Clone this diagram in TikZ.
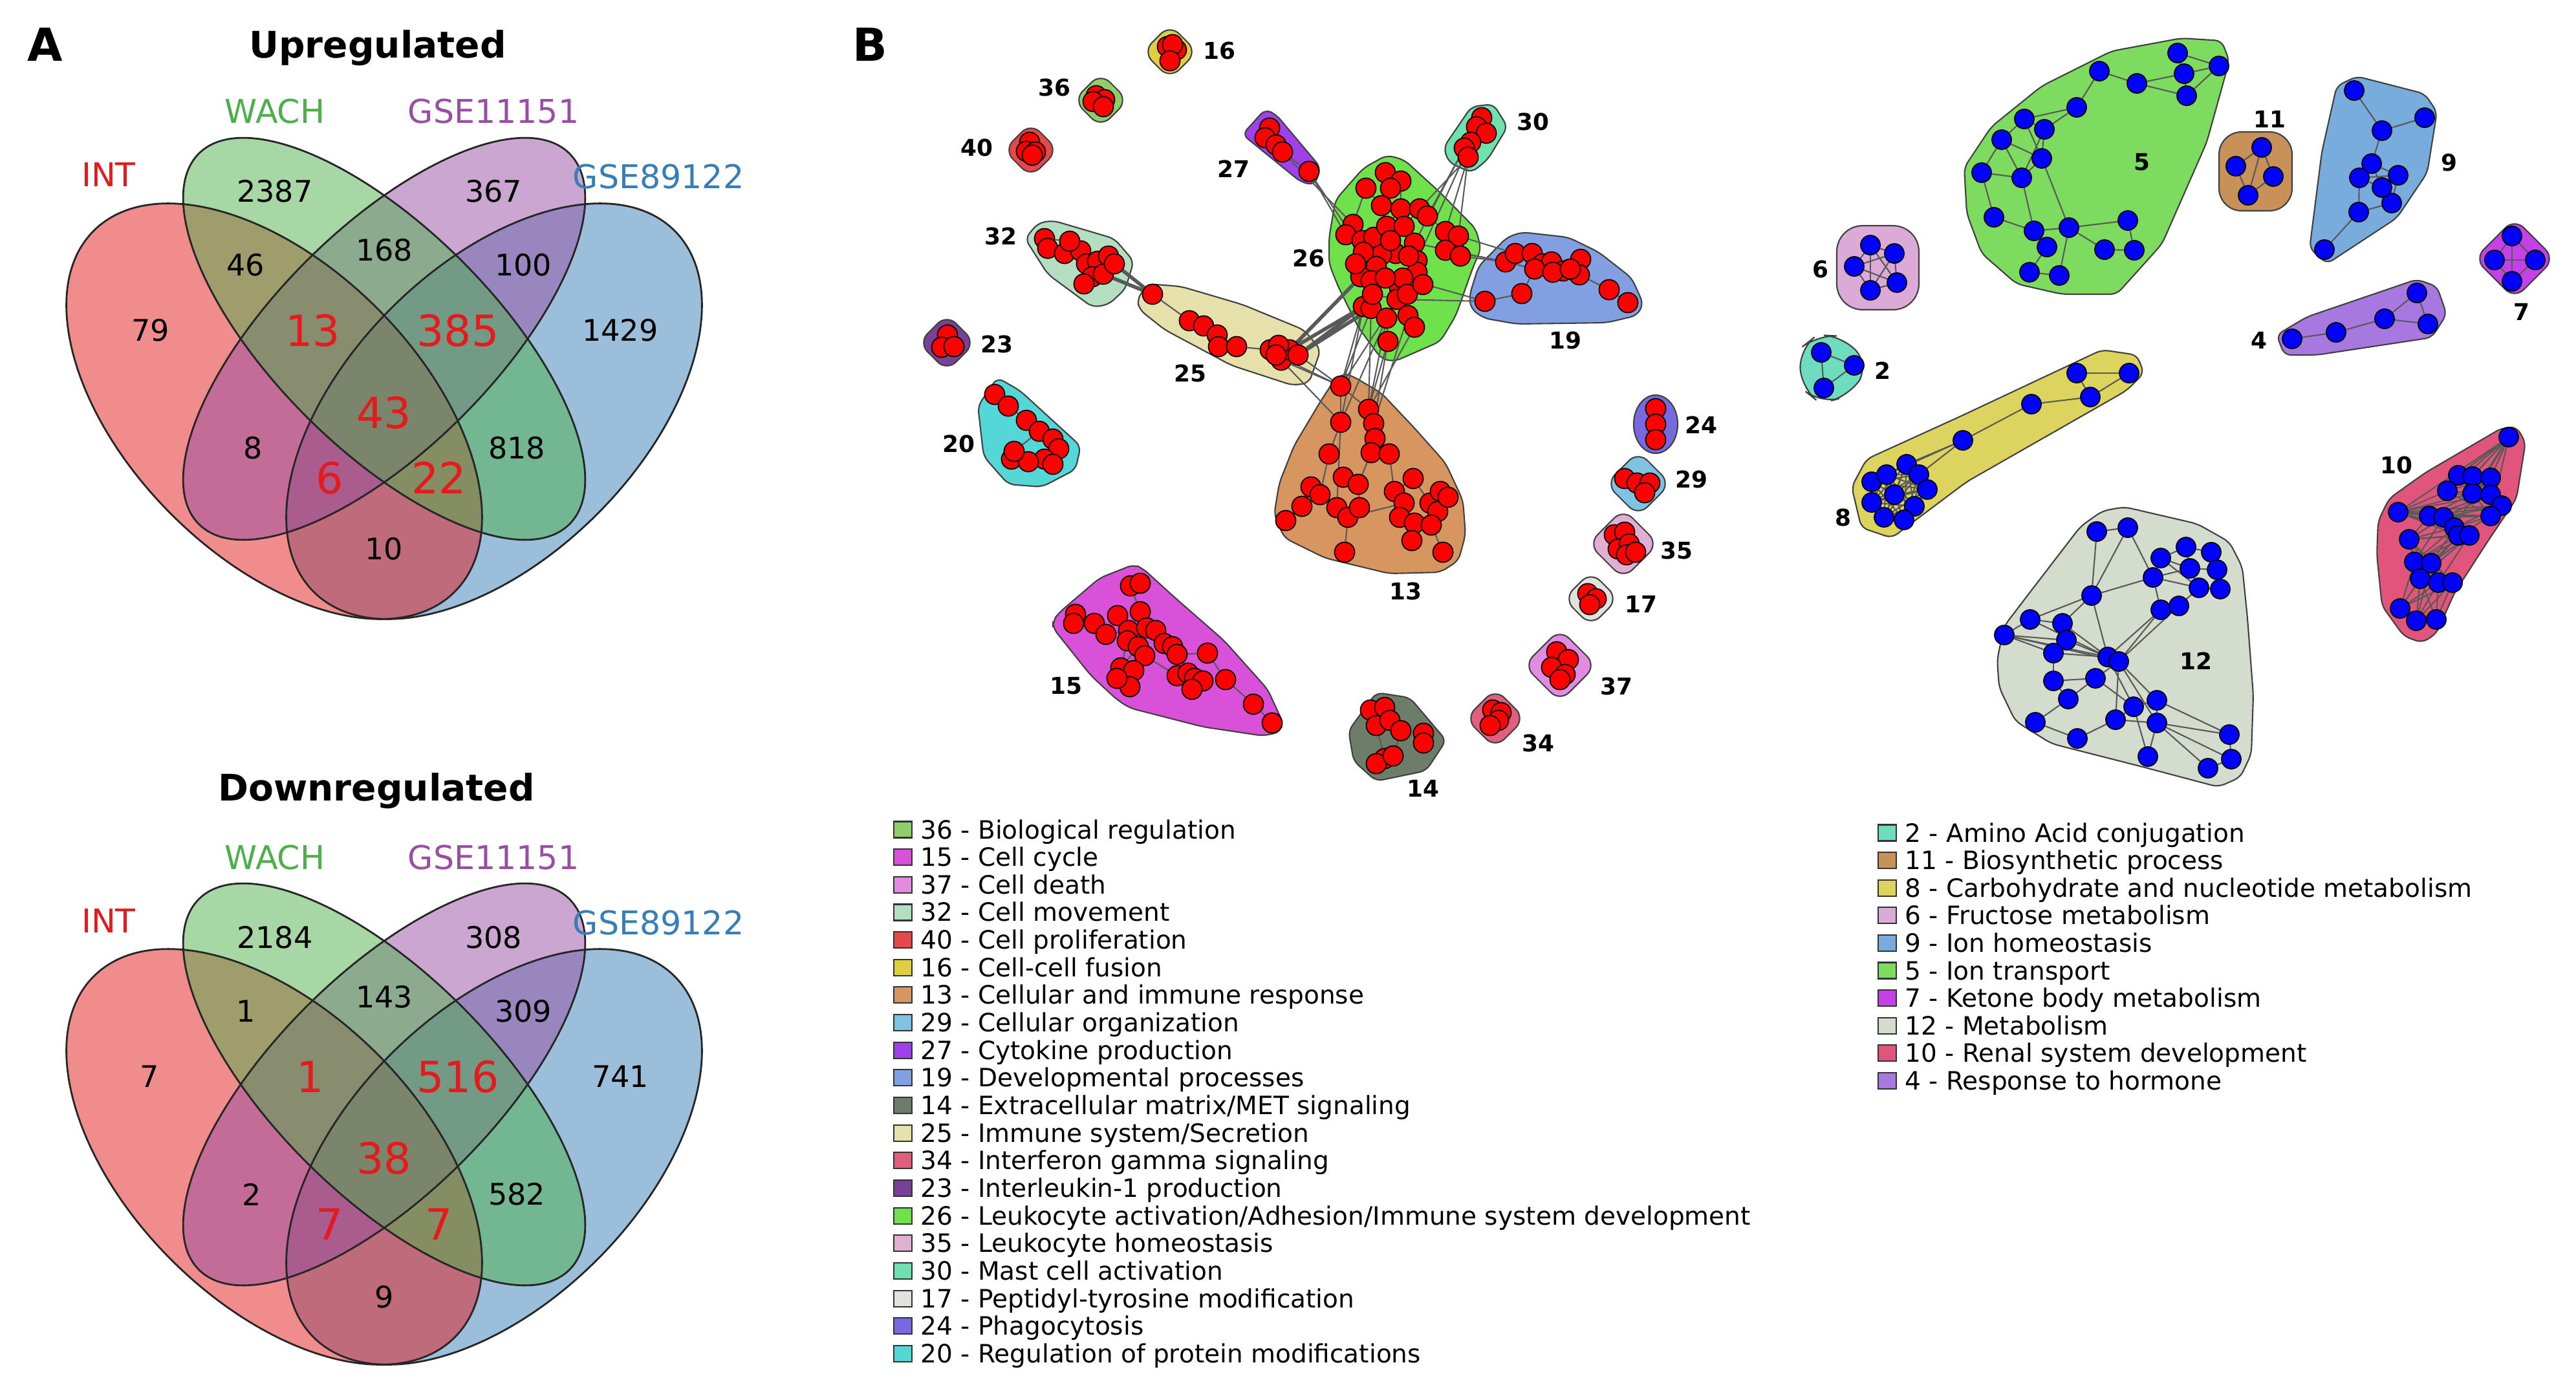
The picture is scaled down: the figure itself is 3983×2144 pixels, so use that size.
\documentclass[tikz,border=0pt]{standalone}
\usepackage{fontspec}
\setmainfont{DejaVu Sans}

\definecolor{setA}{HTML}{E41A1C}
\definecolor{setB}{HTML}{4DAF4A}
\definecolor{setC}{HTML}{984EA3}
\definecolor{setD}{HTML}{377EB8}

\definecolor{k36}{RGB}{143,206,105}
\definecolor{k15}{RGB}{217,80,217}
\definecolor{k37}{RGB}{225,140,225}
\definecolor{k32}{RGB}{180,222,192}
\definecolor{k40}{RGB}{229,72,72}
\definecolor{k16}{RGB}{222,206,64}
\definecolor{k13}{RGB}{215,150,95}
\definecolor{k29}{RGB}{126,196,226}
\definecolor{k27}{RGB}{160,64,235}
\definecolor{k19}{RGB}{130,160,225}
\definecolor{k14}{RGB}{110,125,105}
\definecolor{k25}{RGB}{230,225,170}
\definecolor{k34}{RGB}{225,95,125}
\definecolor{k23}{RGB}{120,65,150}
\definecolor{k26}{RGB}{110,225,75}
\definecolor{k35}{RGB}{225,175,210}
\definecolor{k30}{RGB}{110,225,175}
\definecolor{k17}{RGB}{225,225,222}
\definecolor{k24}{RGB}{120,105,225}
\definecolor{k20}{RGB}{85,215,215}
\definecolor{k2}{RGB}{110,220,190}
\definecolor{k11}{RGB}{200,145,90}
\definecolor{k8}{RGB}{220,212,95}
\definecolor{k6}{RGB}{220,170,215}
\definecolor{k9}{RGB}{120,172,220}
\definecolor{k5}{RGB}{125,220,95}
\definecolor{k7}{RGB}{195,65,230}
\definecolor{k12}{RGB}{212,220,205}
\definecolor{k10}{RGB}{225,85,125}
\definecolor{k4}{RGB}{168,120,225}

\pgfdeclarelayer{hulls}
\pgfdeclarelayer{links}
\pgfsetlayers{hulls,links,main}

\tikzset{
  vset/.style={fill opacity=0.5, draw=none},
  vline/.style={draw=black!85, line width=0.8pt},
  vnum/.style={font=\fontsize{13.1}{15}\selectfont},
  vbig/.style={font=\fontsize{18.9}{22}\selectfont, text=setA},
  vname/.style={font=\fontsize{14.4}{17}\selectfont},
  vtitle/.style={font=\bfseries\fontsize{16.1}{19}\selectfont, anchor=base},
  panel/.style={font=\bfseries\fontsize{20}{24}\selectfont, anchor=base},
  hull/.style={draw=black!75, line width=0.6pt, rounded corners=0.1cm},
  lnk/.style={draw=black!65, line width=0.6pt},
  rdot/.style={circle, draw=black, line width=0.5pt, fill=red, minimum size=0.31cm, inner sep=0pt},
  bdot/.style={rdot, fill=blue, minimum size=0.3cm},
  clab/.style={font=\bfseries\fontsize{10.2}{12}\selectfont},
  lsq/.style={draw=black!80, line width=0.6pt, minimum width=0.28cm, minimum height=0.25cm, inner sep=0pt},
  ltxt/.style={anchor=base west, inner sep=0pt, font=\fontsize{11.1}{13}\selectfont},
}

\newcommand\putdots[3]{\foreach \p [count=\i] in {#3} \node[#2] (#1-\i) at \p {};}
\newcommand\putlinks[2]{\begin{pgfonlayer}{links}\foreach \a/\b in {#2} \draw[lnk] (#1-\a) -- (#1-\b);\end{pgfonlayer}}
\newcommand\dhull[4]{\begin{pgfonlayer}{hulls}\draw[hull, rounded corners=0.2cm, fill=#4] ({#1},{#2-#3}) -- ({#1+#3},{#2}) -- ({#1},{#2+#3}) -- ({#1-#3},{#2}) -- cycle;\end{pgfonlayer}}
\newcommand\phull[2]{\begin{pgfonlayer}{hulls}\draw[hull, fill=#1] #2 -- cycle;\end{pgfonlayer}}

\begin{document}
\begin{tikzpicture}[x=0.01cm, y=-0.01cm]
\useasboundingbox (0,0) rectangle (3983,2144);

\node[panel] (pA) at (70,94) {A};
\node[panel] (pB) at (1345,94) {B};

\foreach \dy in {0,1153} {
  \begin{scope}[yshift={-\dy*0.01cm}]
    \fill[vset, setD, rotate around={45:(764,636)}] (764,636) ellipse [x radius=3.945cm, y radius=2.25cm];
    \fill[vset, setA, rotate around={-45:(424,636)}] (424,636) ellipse [x radius=3.945cm, y radius=2.25cm];
    \fill[vset, setC, rotate around={45:(594,524)}] (594,524) ellipse [x radius=4.05cm, y radius=1.7cm];
    \fill[vset, setB, rotate around={-45:(594,524)}] (594,524) ellipse [x radius=4.05cm, y radius=1.7cm];
    \draw[vline, rotate around={45:(764,636)}] (764,636) ellipse [x radius=3.945cm, y radius=2.25cm];
    \draw[vline, rotate around={-45:(424,636)}] (424,636) ellipse [x radius=3.945cm, y radius=2.25cm];
    \draw[vline, rotate around={45:(594,524)}] (594,524) ellipse [x radius=4.05cm, y radius=1.7cm];
    \draw[vline, rotate around={-45:(594,524)}] (594,524) ellipse [x radius=4.05cm, y radius=1.7cm];
  \end{scope}
}

\node[vtitle] (upT) at (584,89) {Upregulated};
\node[vname, text=setA] (upA) at (168,270) {INT};
\node[vname, text=setB] (upB) at (425,172) {WACH};
\node[vname, text=setC] (upC) at (763,172) {GSE11151};
\node[vname, text=setD] (upD) at (1018,273) {GSE89122};
\node[vnum] (up1000) at (233,511) {79};
\node[vnum] (up0100) at (425,296) {2387};
\node[vnum] (up0010) at (763,296) {367};
\node[vnum] (up0001) at (959,511) {1429};
\node[vnum] (up1100) at (380,410) {46};
\node[vnum] (up0110) at (594,387) {168};
\node[vnum] (up0011) at (809,410) {100};
\node[vbig] (up1110) at (484,511) {13};
\node[vbig] (up0111) at (708,511) {385};
\node[vbig] (up1111) at (594,638) {43};
\node[vnum] (up1010) at (391,693) {8};
\node[vnum] (up0101) at (799,693) {818};
\node[vbig] (up1011) at (510,739) {6};
\node[vbig] (up1101) at (679,739) {22};
\node[vnum] (up1001) at (594,849) {10};

\node[vtitle] (dnT) at (582,1238) {Downregulated};
\node[vname, text=setA] (dnA) at (168,1424) {INT};
\node[vname, text=setB] (dnB) at (425,1326) {WACH};
\node[vname, text=setC] (dnC) at (763,1326) {GSE11151};
\node[vname, text=setD] (dnD) at (1018,1427) {GSE89122};
\node[vnum] (dn1000) at (231,1665) {7};
\node[vnum] (dn0100) at (425,1450) {2184};
\node[vnum] (dn0010) at (763,1450) {308};
\node[vnum] (dn0001) at (959,1665) {741};
\node[vnum] (dn1100) at (380,1564) {1};
\node[vnum] (dn0110) at (594,1542) {143};
\node[vnum] (dn0011) at (809,1564) {309};
\node[vbig] (dn1110) at (480,1665) {1};
\node[vbig] (dn0111) at (708,1665) {516};
\node[vbig] (dn1111) at (594,1791) {38};
\node[vnum] (dn1010) at (389,1847) {2};
\node[vnum] (dn0101) at (799,1847) {582};
\node[vbig] (dn1011) at (510,1893) {7};
\node[vbig] (dn1101) at (679,1893) {7};
\node[vnum] (dn1001) at (594,2006) {9};

\dhull{1809}{80}{42}{k16}
\dhull{1702}{155}{42}{k36}
\dhull{1594}{232}{42}{k40}
\dhull{1464}{530}{44}{k23}
\dhull{2533}{748}{50}{k29}
\dhull{2510}{841}{54}{k35}
\dhull{2460}{926}{42}{k17}
\dhull{2412}{1029}{56}{k37}
\dhull{2312}{1111}{46}{k34}
\begin{pgfonlayer}{hulls}
\draw[hull, fill=k24] (2560,656) ellipse [x radius=0.34cm, y radius=0.45cm];
\end{pgfonlayer}
\phull{k27}{(1921,208) -- (1956,169) -- (1973,177) -- (2042,259) -- (2033,286) -- (2012,282)}
\phull{k30}{(2232,228) -- (2275,165) -- (2309,161) -- (2331,196) -- (2300,247) -- (2275,267) -- (2240,251)}
\phull{k32}{(1585,369) -- (1605,345) -- (1628,341) -- (1723,369) -- (1753,404) -- (1740,447) -- (1714,471) -- (1689,475) -- (1620,424)}
\phull{k26}{(2055,367) -- (2065,309) -- (2108,260) -- (2144,240) -- (2171,247) -- (2227,298) -- (2282,354) -- (2290,385) -- (2278,412) -- (2251,488) -- (2227,528) -- (2156,559) -- (2136,555) -- (2100,506) -- (2069,443) -- (2055,408)}
\phull{k19}{(2272,457) -- (2286,412) -- (2330,367) -- (2353,359) -- (2425,367) -- (2472,390) -- (2523,430) -- (2541,470) -- (2531,488) -- (2484,499) -- (2345,501) -- (2294,492) -- (2274,477)}
\phull{k25}{(1758,463) -- (1775,439) -- (1826,443) -- (1921,471) -- (2016,510) -- (2042,541) -- (2024,592) -- (1999,596) -- (1904,565) -- (1801,510) -- (1762,479)}
\phull{k20}{(1512,628) -- (1542,584) -- (1577,604) -- (1671,690) -- (1663,726) -- (1611,753) -- (1559,749) -- (1521,706)}
\phull{k13}{(1970,796) -- (1978,747) -- (2001,689) -- (2041,622) -- (2061,591) -- (2077,577) -- (2092,582) -- (2136,608) -- (2187,662) -- (2235,716) -- (2262,774) -- (2266,827) -- (2255,867) -- (2227,885) -- (2148,887) -- (2049,863) -- (1986,832)}
\phull{k15}{(1628,960) -- (1637,948) -- (1700,894) -- (1753,873) -- (1767,879) -- (1813,921) -- (1893,991) -- (1960,1066) -- (1983,1116) -- (1980,1132) -- (1953,1138) -- (1860,1124) -- (1747,1095) -- (1727,1082) -- (1687,1045) -- (1647,995) -- (1628,971)}
\phull{k14}{(2085,1130) -- (2128,1071) -- (2180,1079) -- (2236,1145) -- (2205,1192) -- (2128,1208) -- (2093,1177)}

\putdots{c16}{rdot}{(1805,72),(1819,77),(1813,69),(1809,94)}
\putdots{c36}{rdot}{(1695,148),(1708,154),(1690,157),(1706,165)}
\putdots{c40}{rdot}{(1592,220),(1587,234),(1601,235),(1596,240)}
\putdots{c23}{rdot}{(1465,518),(1456,537),(1475,536)}
\putdots{c24}{rdot}{(2560,632),(2560,656),(2560,680)}
\putdots{c29}{rdot}{(2512,740),(2531,747),(2551,747),(2543,762)}
\putdots{c35}{rdot}{(2496,827),(2512,823),(2502,849),(2519,841),(2515,858),(2529,854)}
\putdots{c17}{rdot}{(2455,918),(2468,926),(2458,935)}
\putdots{c37}{rdot}{(2407,1008),(2425,1020),(2399,1032),(2420,1043),(2412,1051)}
\putdots{c34}{rdot}{(2308,1098),(2321,1102),(2317,1114),(2304,1122)}
\putdots{c27}{rdot}{(1963,198),(1956,213),(1973,224),(1983,235),(2024,265)}
\putdots{c30}{rdot}{(2291,182),(2283,196),(2298,206),(2274,220),(2264,229),(2270,243)}
\putdots{c32}{rdot}{(1615,369),(1620,384),(1646,392),(1671,388),(1680,408),(1697,404),(1714,396),(1689,428),(1676,439),(1706,424),(1723,408),(1654,373)}
\putdots{c25}{rdot}{(1782,455),(1839,496),(1861,504),(1882,518),(1884,536),(1912,536),(1964,541),(1981,557),(1994,541),(1977,534),(2007,549),(1973,549)}
\putdots{c26}{rdot}{(2142,267),(2166,280),(2112,291),(2150,291),(2136,318),(2166,323),(2195,323),(2207,334),(2092,347),(2081,363),(2106,372),(2124,367),(2144,350),(2171,350),(2235,358),(2255,365),(2187,376),(2158,392),(2136,394),(2108,390),(2235,387),(2258,396),(2191,403),(2128,412),(2104,428),(2120,434),(2191,421),(2164,445),(2160,463),(2108,474),(2120,477),(2144,492),(2177,488),(2187,506),(2146,528),(2169,430),(2150,372),(2178,396),(2142,430),(2176,455),(2122,455),(2200,440),(2096,408)}
\putdots{c19}{rdot}{(2328,405),(2343,392),(2369,392),(2385,408),(2399,405),(2417,419),(2373,416),(2444,401),(2442,425),(2488,448),(2517,468),(2353,454),(2296,466),(2401,421),(2428,416)}
\putdots{c20}{rdot}{(1538,610),(1559,628),(1587,650),(1607,667),(1628,679),(1637,694),(1615,710),(1628,718),(1564,710),(1590,714),(1568,698)}
\putdots{c13}{rdot}{(2073,597),(2073,653),(2116,633),(2124,655),(2126,678),(2120,700),(2148,702),(2055,702),(2077,738),(2100,749),(2027,753),(2041,765),(2013,783),(1988,805),(2067,785),(2084,800),(2102,785),(2079,854),(2156,760),(2185,740),(2171,778),(2164,800),(2187,809),(2211,778),(2227,760),(2223,791),(2213,812),(2183,836),(2231,854),(2239,769)}
\putdots{c15}{rdot}{(1748,906),(1763,902),(1663,950),(1660,964),(1692,964),(1710,981),(1728,952),(1763,946),(1745,975),(1743,991),(1773,971),(1787,975),(1760,1000),(1800,995),(1813,1000),(1820,1012),(1770,1014),(1733,1033),(1753,1037),(1747,1062),(1727,1049),(1820,1045),(1837,1041),(1847,1049),(1860,1053),(1843,1066),(1867,1010),(1895,1051),(1938,1089),(1967,1118)}
\putdots{c14}{rdot}{(2119,1098),(2141,1094),(2128,1122),(2149,1114),(2166,1130),(2201,1134),(2201,1149),(2141,1173),(2128,1181),(2154,1169)}

\putlinks{c27}{1/2,2/3,3/4,4/5,1/3}
\putlinks{c30}{1/2,2/3,2/4,3/4,4/5,5/6}
\putlinks{c32}{1/2,2/3,3/4,4/5,5/6,6/7,5/8,8/9,8/10,10/11,1/12,12/4,7/11}
\putlinks{c25}{1/2,2/3,3/4,4/5,4/6,5/6,6/7,7/10,7/12,8/9,9/10,10/11,11/8,12/8,9/12}
\putlinks{c26}{1/4,2/4,3/5,4/5,5/13,6/14,7/8,7/14,9/10,10/11,11/12,12/13,13/14,14/17,17/18,18/19,19/20,11/20,12/19,13/18,17/23,23/27,27/36,36/28,28/29,29/32,32/33,33/34,32/35,24/25,25/26,26/28,24/19,30/31,31/32,15/16,15/21,21/22,16/22,8/15,20/25,9/3,2/6,6/13,18/24,23/36,14/23,12/24,37/13,37/18,38/17,38/23,39/24,39/36,40/29,40/36,41/26,41/29,42/27,43/20,43/25}
\putlinks{c19}{1/2,2/3,3/4,4/5,5/6,3/7,7/14,14/6,6/15,15/8,8/9,9/10,10/11,12/13,12/7,1/7}
\putlinks{c20}{1/2,2/3,3/4,4/5,5/6,6/8,7/8,7/10,9/10,9/11,11/4}
\putlinks{c13}{1/2,2/8,2/15,3/4,4/5,5/6,6/7,6/10,9/10,10/17,8/12,11/12,11/13,13/14,12/15,15/16,16/17,16/18,7/19,19/20,19/21,21/22,22/23,20/24,24/25,25/30,26/27,23/28,27/29,21/23,24/26,1/3,16/21}
\putlinks{c15}{1/2,1/8,3/4,4/5,5/6,6/9,7/9,8/9,9/10,9/11,11/12,12/14,14/15,15/16,10/17,17/18,18/19,19/20,20/21,18/21,16/22,22/23,23/24,24/25,25/26,22/26,16/27,27/28,28/29,29/30,17/22,10/18,13/18}
\putlinks{c14}{1/2,1/3,2/4,3/4,4/5,5/6,6/7,5/10,8/9,9/10,8/10,3/8}
\begin{pgfonlayer}{links}
\foreach \a/\b in {c26-17/c19-1,c26-22/c19-1,c26-16/c19-2,c26-36/c19-13,c26-29/c19-13,c26-21/c19-1,
  c30-6/c26-7,c30-5/c26-8,c30-6/c26-15,c30-5/c26-17,c30-4/c26-23,c30-6/c26-16,
  c27-5/c26-10,c27-5/c26-20,c27-4/c26-9,
  c25-8/c13-1,c25-11/c13-1,c25-8/c13-2,c25-12/c13-1,
  c26-30/c13-1,c26-31/c13-1,c26-32/c13-3,c26-35/c13-3,c26-35/c13-4,c26-29/c13-1,c26-34/c13-3,c26-32/c13-2,c26-33/c13-4,c26-30/c13-2,c26-31/c13-3}
  \draw[lnk] (\a) -- (\b);
\foreach \a/\b in {c25-9/c26-30,c25-11/c26-30,c25-9/c26-25,c25-11/c26-31,c32-11/c25-1,c32-10/c25-1}
  \draw[lnk, line width=1.6pt] (\a) -- (\b);
\end{pgfonlayer}

\node[clab] (l16) at (1885,78) {16};
\node[clab] (l36) at (1630,135) {36};
\node[clab] (l40) at (1510,228) {40};
\node[clab] (l27) at (1907,261) {27};
\node[clab] (l30) at (2370,188) {30};
\node[clab] (l32) at (1547,365) {32};
\node[clab] (l26) at (2023,399) {26};
\node[clab] (l19) at (2420,526) {19};
\node[clab] (l23) at (1541,532) {23};
\node[clab] (l25) at (1840,577) {25};
\node[clab] (l20) at (1482,686) {20};
\node[clab] (l13) at (2173,914) {13};
\node[clab] (l24) at (2630,657) {24};
\node[clab] (l29) at (2615,741) {29};
\node[clab] (l35) at (2592,851) {35};
\node[clab] (l17) at (2537,934) {17};
\node[clab] (l37) at (2499,1061) {37};
\node[clab] (l15) at (1648,1061) {15};
\node[clab] (l34) at (2378,1149) {34};
\node[clab] (l14) at (2200,1219) {14};

\phull{k5}{(3037,259) -- (3079,196) -- (3157,133) -- (3265,79) -- (3373,59) -- (3435,63) -- (3447,94) -- (3412,220) -- (3343,377) -- (3273,455) -- (3188,455) -- (3118,439) -- (3064,392) -- (3041,330)}
\phull{k9}{(3571,384) -- (3590,235) -- (3613,133) -- (3644,118) -- (3749,145) -- (3768,173) -- (3753,267) -- (3706,337) -- (3598,408)}
\phull{k4}{(3520,518) -- (3567,490) -- (3737,432) -- (3768,443) -- (3783,486) -- (3760,522) -- (3582,549) -- (3532,549)}
\phull{k8}{(2863,753) -- (2886,710) -- (3033,643) -- (3250,541) -- (3304,549) -- (3315,577) -- (3288,604) -- (3041,745) -- (2925,832) -- (2878,816)}
\phull{k12}{(3088,1020) -- (3099,968) -- (3144,909) -- (3217,814) -- (3251,790) -- (3285,784) -- (3397,810) -- (3447,838) -- (3467,877) -- (3475,956) -- (3484,1075) -- (3481,1166) -- (3464,1202) -- (3430,1217) -- (3313,1186) -- (3172,1150) -- (3116,1115) -- (3091,1063)}
\phull{k10}{(3677,806) -- (3694,771) -- (3750,731) -- (3868,662) -- (3891,660) -- (3905,684) -- (3891,771) -- (3846,838) -- (3795,917) -- (3767,980) -- (3745,994) -- (3717,984) -- (3683,937) -- (3675,858)}
\dhull{3888}{400}{62}{k7}
\begin{pgfonlayer}{hulls}
\draw[hull, rounded corners=0.35cm, fill=k11] (3431,204) rectangle (3544,326);
\draw[hull, rounded corners=0.4cm, fill=k6] (2840,349) rectangle (2967,479);
\draw[hull, rounded corners=0.3cm, fill=k2] (2782,540) -- (2810,518) -- (2850,520) -- (2890,565) -- (2860,612) -- (2815,624) -- (2785,600) -- cycle;
\end{pgfonlayer}

\putdots{c5}{bdot}{(3367,82),(3431,102),(3377,114),(3381,148),(3304,129),(3246,110),(3211,166),(3130,184),(3161,200),(3095,216),(3157,245),(3064,267),(3126,275),(3083,336),(3145,357),(3199,352),(3165,382),(3138,421),(3184,426),(3254,386),(3300,387),(3290,341)}
\putdots{c11}{bdot}{(3497,228),(3457,257),(3515,273),(3476,302)}
\putdots{c9}{bdot}{(3640,140),(3749,182),(3683,202),(3667,253),(3648,275),(3708,271),(3698,314),(3647,328),(3594,386),(3683,290)}
\putdots{c6}{bdot}{(2892,379),(2929,392),(2867,412),(2933,437),(2892,449)}
\putdots{c2}{bdot}{(2816,545),(2867,565),(2820,600)}
\putdots{c7}{bdot}{(3884,365),(3857,402),(3920,402),(3884,435)}
\putdots{c4}{bdot}{(3544,524),(3612,514),(3687,493),(3737,453),(3754,501)}
\putdots{c8}{bdot}{(3211,577),(3292,577),(3232,614),(3141,625),(3035,681),(2894,745),(2917,734),(2948,718),(2967,734),(2980,757),(2960,783),(2944,804),(2913,800),(2894,777),(2929,765)}
\putdots{c12}{bdot}{(3242,822),(3290,816),(3341,863),(3380,846),(3419,854),(3329,893),(3386,879),(3428,881),(3400,909),(3433,911),(3341,943),(3369,937),(3234,921),(3139,958),(3189,964),(3099,982),(3195,990),(3175,1010),(3259,1016),(3276,1023),(3175,1053),(3240,1049),(3198,1081),(3299,1093),(3335,1083),(3147,1117),(3271,1113),(3335,1118),(3447,1136),(3212,1142),(3321,1170),(3450,1174),(3414,1188)}
\putdots{c10}{bdot}{(3879,676),(3801,735),(3823,737),(3851,739),(3784,759),(3823,763),(3851,765),(3868,782),(3851,798),(3708,792),(3756,798),(3778,800),(3795,816),(3801,828),(3818,828),(3725,834),(3733,869),(3759,871),(3742,895),(3770,901),(3792,901),(3711,941),(3736,960),(3767,958)}

\putlinks{c5}{1/2,1/3,2/3,3/4,2/4,3/5,5/6,5/4,6/7,7/9,7/8,8/9,8/10,10/11,9/11,10/12,10/13,12/13,11/13,12/14,14/15,15/16,15/17,17/18,18/19,19/16,16/22,16/20,20/21,21/22,11/16,13/15,8/11,9/13}
\putlinks{c11}{1/2,1/3,2/4,3/4,1/4}
\putlinks{c9}{1/3,2/3,3/4,4/5,4/6,5/6,5/8,6/7,7/8,8/9,5/10,6/10,7/10,4/10}
\putlinks{c6}{1/2,1/3,1/4,1/5,2/3,2/4,2/5,3/4,3/5,4/5}
\putlinks{c2}{1/2,1/3,2/3}
\putlinks{c7}{1/2,1/3,2/4,3/4,1/4,2/3}
\putlinks{c4}{1/2,2/3,3/4,3/5,4/5}
\putlinks{c8}{1/2,1/3,2/3,3/4,4/5,5/7,5/8,5/9}
\putlinks{c12}{1/2,1/13,2/13,2/6,3/4,3/6,3/7,4/5,4/7,5/8,6/7,7/8,7/9,8/10,9/10,9/12,6/11,11/12,3/9,6/9,13/6,13/14,13/15,13/19,14/15,14/16,16/17,16/18,15/17,15/19,17/18,17/20,18/21,18/19,19/20,20/11,20/12,19/11,20/22,21/22,21/23,22/23,22/24,19/24,20/25,20/27,24/25,24/27,25/28,27/28,23/26,26/30,30/27,24/31,28/31,25/29,28/29,29/32,32/33,33/28,28/32,20/28,16/19,16/20,14/19}
\begin{pgfonlayer}{links}
\foreach \a in {6,...,15} {\foreach \b in {6,...,15} {\ifnum\a<\b \draw[lnk] (c8-\a) -- (c8-\b);\fi}}
\foreach \a in {2,...,24} {\foreach \k in {1,...,5} {\pgfmathtruncatemacro\b{\a-\k}\ifnum\b>0 \draw[lnk] (c10-\a) -- (c10-\b);\fi}}
\foreach \b in {2,3,4,6,9,10,13} \draw[lnk] (c10-1) -- (c10-\b);
\end{pgfonlayer}

\node[clab] (l5) at (3312,251) {5};
\node[clab] (l11) at (3509,184) {11};
\node[clab] (l9) at (3787,251) {9};
\node[clab] (l6) at (2815,416) {6};
\node[clab] (l2) at (2911,573) {2};
\node[clab] (l7) at (3899,482) {7};
\node[clab] (l4) at (3493,526) {4};
\node[clab] (l8) at (2850,800) {8};
\node[clab] (l10) at (3705,719) {10};
\node[clab] (l12) at (3395,1022) {12};

\foreach \c/\t [count=\i] in {k36/{36 - Biological regulation}, k15/{15 - Cell cycle}, k37/{37 - Cell death}, k32/{32 - Cell movement}, k40/{40 - Cell proliferation}, k16/{16 - Cell-cell fusion}, k13/{13 - Cellular and immune response}, k29/{29 - Cellular organization}, k27/{27 - Cytokine production}, k19/{19 - Developmental processes}, k14/{14 - Extracellular matrix/MET signaling}, k25/{25 - Immune system/Secretion}, k34/{34 - Interferon gamma signaling}, k23/{23 - Interleukin-1 production}, k26/{26 - Leukocyte activation/Adhesion/Immune system development}, k35/{35 - Leukocyte homeostasis}, k30/{30 - Mast cell activation}, k17/{17 - Peptidyl-tyrosine modification}, k24/{24 - Phagocytosis}, k20/{20 - Regulation of protein modifications}} {
  \node[lsq, fill=\c] (ls\i) at (1396,{1283+(\i-1)*42.65}) {};
  \node[ltxt] (lt\i) at (1423,{1297+(\i-1)*42.65}) {\t};
}
\foreach \c/\t [count=\i] in {k2/{2 - Amino Acid conjugation}, k11/{11 - Biosynthetic process}, k8/{8 - Carbohydrate and nucleotide metabolism}, k6/{6 - Fructose metabolism}, k9/{9 - Ion homeostasis}, k5/{5 - Ion transport}, k7/{7 - Ketone body metabolism}, k12/{12 - Metabolism}, k10/{10 - Renal system development}, k4/{4 - Response to hormone}} {
  \node[lsq, fill=\c] (rs\i) at (2918,{1288+(\i-1)*42.6}) {};
  \node[ltxt] (rt\i) at (2945,{1302+(\i-1)*42.6}) {\t};
}
\end{tikzpicture}
\end{document}
